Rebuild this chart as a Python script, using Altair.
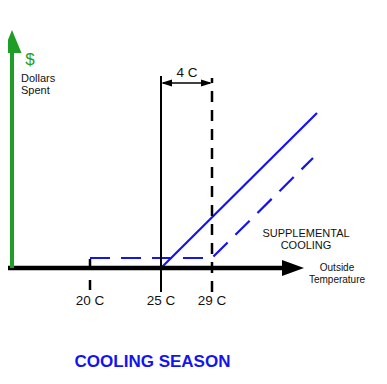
import altair as alt
import pandas as pd

# ---- schematic diagram coordinates (units follow the reference picture) ----
# horizontal "Outside Temperature" axis
axis_x = [0, 284]
axis_y = [268]
axis_head_x = [282, 304]
axis_head_lo = [260, 268]
axis_head_hi = [276, 268]

# vertical "Dollars Spent" arrow
money_x = [12]
money_y = [268, 50]
money_head_y = [53, 30]
money_head_lo = [2.5, 12]
money_head_hi = [21.5, 12]

# temperature markers (drawn from the bottom end upwards)
temp_labels = ["20 C", "25 C", "29 C"]
temp_x = [90, 161, 212]
marker_top = [258, 76, 78]
marker_bottom = [290, 292, 292]

# 4 C span arrow
span_x = [163, 210]
span_y = [83]
span_heads = {"left": ([161, 172], [83, 79.5], [83, 86.5]),
              "right": ([201, 212], [79.5, 83], [86.5, 83])}

# cost lines
main_x = [161, 317]
main_y = [268, 113]
supp_x = [90, 212, 313]
supp_y = [258, 258, 158]

BLUE = "#1414ee"
GREEN = "#1f9e26"
FONT = "Liberation Sans"

xs = alt.Scale(domain=[8, 379], nice=False, zero=False)
ys = alt.Scale(domain=[8, 376], reverse=True, nice=False, zero=False)


def X(f="x"):
    return alt.X(f"{f}:Q", scale=xs, axis=None)


def Y(f="y"):
    return alt.Y(f"{f}:Q", scale=ys, axis=None)


layers = []

# blue cost lines
layers.append(alt.Chart(pd.DataFrame({"x": supp_x, "y": supp_y})).mark_line(
    color=BLUE, strokeWidth=2.2, strokeDash=[20, 11]).encode(x=X(), y=Y()))
layers.append(alt.Chart(pd.DataFrame({"x": main_x, "y": main_y})).mark_line(
    color=BLUE, strokeWidth=2.2).encode(x=X(), y=Y()))

# temperature markers
mk = pd.DataFrame({"x": temp_x, "y": marker_bottom, "y2": marker_top})
layers.append(alt.Chart(mk.iloc[[0]]).mark_rule(
    color="black", strokeWidth=2.5, strokeDash=[10, 11]).encode(
    x=X(), y=Y(), y2="y2:Q"))
layers.append(alt.Chart(mk.iloc[[1]]).mark_rule(
    color="black", strokeWidth=2).encode(x=X(), y=Y(), y2="y2:Q"))
layers.append(alt.Chart(mk.iloc[[2]]).mark_rule(
    color="black", strokeWidth=2.5, strokeDash=[11, 8]).encode(
    x=X(), y=Y(), y2="y2:Q"))

# horizontal axis
layers.append(alt.Chart(pd.DataFrame({"x": [axis_x[0]], "x2": [axis_x[1]], "y": axis_y})).mark_rule(
    color="black", strokeWidth=4.5).encode(x=X(), x2="x2:Q", y=Y()))

# span line
layers.append(alt.Chart(pd.DataFrame({"x": [span_x[0]], "x2": [span_x[1]], "y": span_y})).mark_rule(
    color="black", strokeWidth=1.5).encode(x=X(), x2="x2:Q", y=Y()))

# horizontal triangles (axis head and span heads)
rows = []
for i in range(2):
    rows.append({"tri": "axis", "x": axis_head_x[i], "y": axis_head_lo[i], "y2": axis_head_hi[i]})
for k, (hx, lo, hi) in span_heads.items():
    for i in range(2):
        rows.append({"tri": k, "x": hx[i], "y": lo[i], "y2": hi[i]})
layers.append(alt.Chart(pd.DataFrame(rows)).mark_area(color="black").encode(
    x=X(), y=Y(), y2="y2:Q", detail="tri:N"))

# green money arrow
layers.append(alt.Chart(pd.DataFrame({"x": money_x, "y": [money_y[0]], "y2": [money_y[1]]})).mark_rule(
    color=GREEN, strokeWidth=4).encode(x=X(), y=Y(), y2="y2:Q"))
layers.append(alt.Chart(pd.DataFrame({"y": money_head_y, "x": money_head_lo, "x2": money_head_hi})).mark_area(
    color=GREEN, orient="horizontal").encode(y=Y(), x=X(), x2="x2:Q"))


def text_layer(df, size, color="#111111", align="center", weight="normal"):
    return alt.Chart(df).mark_text(
        font=FONT, fontSize=size, color=color, align=align,
        baseline="alphabetic", fontWeight=weight).encode(x=X(), y=Y(), text="t:N")


layers.append(text_layer(pd.DataFrame({"x": temp_x, "y": [305] * 3, "t": temp_labels}), 13.5))
layers.append(text_layer(pd.DataFrame({"x": [187], "y": [77], "t": ["4 C"]}), 13.5))
layers.append(text_layer(pd.DataFrame({"x": [30], "y": [65], "t": ["$"]}), 17, color=GREEN))
layers.append(text_layer(pd.DataFrame({"x": [21, 21], "y": [82, 94], "t": ["Dollars", "Spent"]}), 11, align="left"))
layers.append(text_layer(pd.DataFrame({"x": [306, 306], "y": [237, 249], "t": ["SUPPLEMENTAL", "COOLING"]}), 11))
layers.append(text_layer(pd.DataFrame({"x": [337, 337], "y": [271, 283], "t": ["Outside", "Temperature"]}), 10))
layers.append(text_layer(pd.DataFrame({"x": [152.5], "y": [367], "t": ["COOLING SEASON"]}), 17,
                         color=BLUE, weight="bold"))

chart = alt.layer(*layers).properties(
    width=371, height=368, padding=0,
    autosize=alt.AutoSizeParams(type="none"),
    background="white",
).configure_view(stroke=None)

chart.save("out.html", embed_options={"renderer": "svg", "actions": False})
